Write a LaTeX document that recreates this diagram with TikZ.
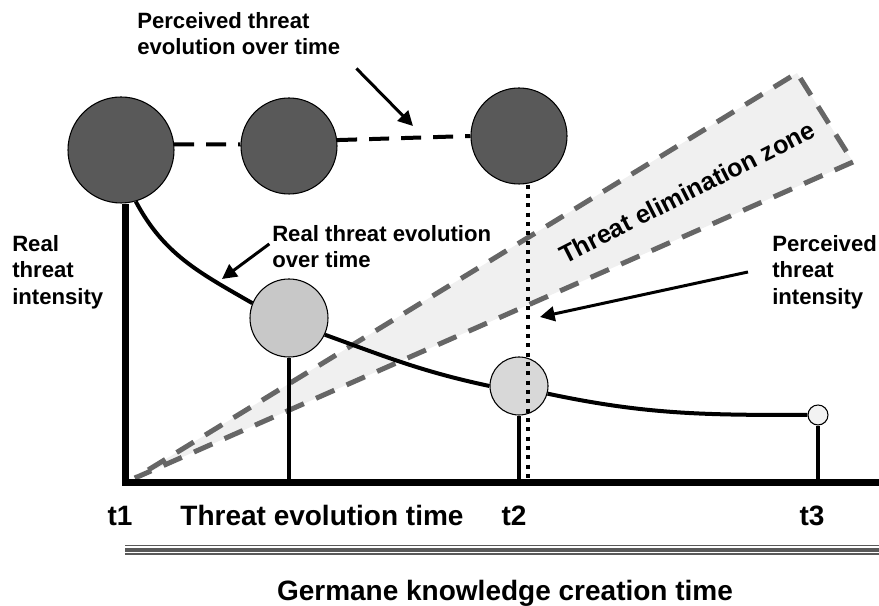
\documentclass[tikz,border=0pt]{standalone}
\usepackage{fontspec}
\setmainfont{Liberation Sans}
\usepackage{tikz}
\usetikzlibrary{arrows.meta,positioning,calc}
\definecolor{perceived}{RGB}{89,89,89}
\definecolor{zonegray}{RGB}{102,102,102}
\definecolor{zonefill}{RGB}{240,240,240}
\definecolor{gridfill}{RGB}{200,200,200}
\definecolor{dotfill}{RGB}{216,216,216}
\definecolor{palefill}{RGB}{242,242,242}

\begin{document}
\begin{tikzpicture}[
  x=0.75pt, y=0.75pt,
  lbl/.style={align=left, inner sep=0pt, font=\fontsize{16.6}{19.8}\selectfont\bfseries},
  big/.style={inner sep=0pt, anchor=base, font=\fontsize{21}{25}\selectfont\bfseries},
  ball/.style={circle, draw=black, line width=0.8pt, inner sep=0pt},
  stem/.style={line width=3pt},
  curve/.style={line width=3pt},
  pdash/.style={line width=3pt, dash pattern=on 15pt off 9pt},
  zone/.style={draw=zonegray, fill=zonefill, line width=3.75pt, dash pattern=on 15pt off 10pt},
  arr/.style={-{Triangle[length=11pt,width=11pt]}, line width=2.25pt},
  dotline/.style={line width=3pt, dash pattern=on 3pt off 4pt}]
\useasboundingbox (0,0) rectangle (879,606);
% threat elimination zone
\coordinate (z0) at (135,128);
\coordinate (z1) at (797,533);
\coordinate (z2) at (853,444);
\draw[zone] (z2) -- (z0) -- (z1) -- cycle;
\node[rotate=27, inner sep=0pt, font=\fontsize{19}{22}\selectfont\bfseries] (zonetxt) at (687,414) {Threat elimination zone};
% axis corner
\coordinate (o) at (125,123);
\coordinate (axisend) at (879,123);
% perceived threat circles
\node[ball, fill=perceived, minimum size=79.5pt] (c1) at (121,456) {};
\node[ball, fill=perceived, minimum size=72pt] (c2) at (289,460) {};
\node[ball, fill=perceived, minimum size=72pt] (c3) at (519,470) {};
\draw[pdash] (c1.6) -- (c2.178);
\draw[pdash] (c2.7) -- (c3.180);
% real threat circles
\node[ball, fill=gridfill, minimum size=58.5pt] (c4) at (289,288) {};
\node[ball, fill=dotfill, minimum size=43.5pt] (c5) at (519,220) {};
\node[ball, fill=palefill, minimum size=15pt] (c6) at (818,191) {};
\draw[curve] (c1.-74) to[out=-62,in=150] (c4.158);
\draw[curve] (c4.-25) to[out=-20,in=168] (c5.180);
\draw[curve] (c5.-15) to[out=-12,in=180] (c6.west);
% stems and axes
\draw[line width=5.25pt] (c1.south -| o) -- (o) -- (axisend);
\draw[stem] (c4.south) -- (c4.south |- o);
\draw[stem] (c5.south) -- (c5.south |- o);
\draw[stem] (c6.south) -- (c6.south |- o);
\coordinate (dtop) at ([xshift=6.75pt]c3.south);
\draw[dotline] (dtop) -- (dtop |- o);
% axis labels
\node[big] (t1) at (120,80) {t1};
\node[big] (tevo) at (322,80) {Threat evolution time};
\node[big] (t2) at (514,80) {t2};
\node[big] (t3) at (812,80) {t3};
\coordinate (sepL) at (125,56);
\coordinate (sepR) at (879,56);
\draw[perceived, line width=7.5pt] (sepL) -- (sepR);
\draw[white, line width=5.25pt] (sepL) -- (sepR);
\draw[perceived, line width=3pt] (sepL) -- (sepR);
\node[big] (germ) at (505,5) {Germane knowledge creation time};
% callouts
\node[lbl, anchor=north west] (lblpte) at (137,594) {Perceived threat\\evolution over time};
\node[lbl, anchor=north west] (lblrte) at (272,381) {Real threat evolution\\over time};
\node[lbl, anchor=north west] (lblrti) at (12,371) {Real\\threat\\intensity};
\node[lbl, anchor=north west] (lblpti) at (772,371) {Perceived\\threat\\intensity};
\coordinate (tipa) at (413,480);
\coordinate (tipb) at (222,327);
\coordinate (tipc) at (540,289);
\draw[arr] ([shift={(12pt,-10pt)}]lblpte.south east) -- (tipa);
\draw[arr] ([shift={(-2pt,2pt)}]lblrte.west) -- (tipb);
\draw[arr] ([xshift=-18pt]lblpti.west) -- (tipc);
\end{tikzpicture}
\end{document}
